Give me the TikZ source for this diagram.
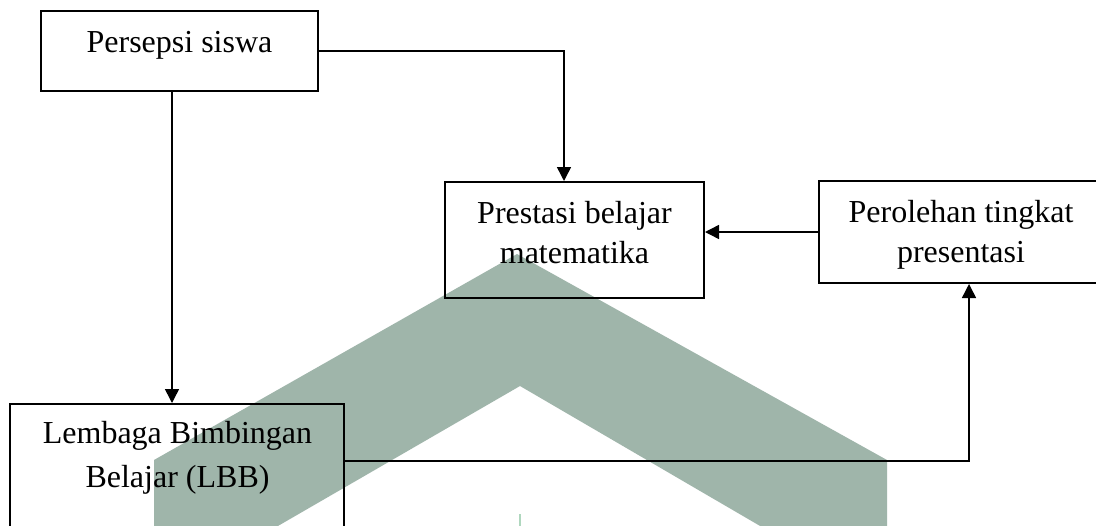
\documentclass[tikz,border=0pt]{standalone}
\usepackage{fontspec}
\setmainfont{Liberation Serif}
\usetikzlibrary{arrows.meta,calc}
\definecolor{wm}{RGB}{159,181,170}
\definecolor{wmlight}{RGB}{175,215,190}
\begin{document}
\begin{tikzpicture}[x=0.5pt,y=-0.5pt,
 box/.style={draw=black,line width=1pt,inner sep=0pt},
 lbl/.style={inner sep=0pt,anchor=base,font=\fontsize{16}{20}\selectfont},
 conn/.style={draw=black,line width=0.75pt},
 arr/.style={conn,-{Triangle[length=7pt,width=7pt]}}]
\useasboundingbox (0,0) rectangle (1096,525);
\clip (0,0) rectangle (1096,525);
\fill[white] (0,0) rectangle (1096,525);
% watermark
\fill[wm] (154,530) -- (154,460) -- (517,254) -- (887,460) -- (887,530) -- (767,530) -- (520,386) -- (271,530) -- cycle;
\fill[wmlight] (519.3,514) rectangle (521,530);
% boxes
\node[box,minimum width=138.5pt,minimum height=40pt] (ps) at (179.5,51) {};
\node[box,minimum width=129.5pt,minimum height=58pt] (pb) at (574.5,240) {};
\node[box,minimum width=142pt,minimum height=51pt] (pr) at (961,232) {};
\node[box,minimum width=167.25pt,minimum height=65.5pt] (lbb) at (176.75,469.5) {};
% texts
\node[lbl] (ps1) at (179.5,52) {Persepsi siswa};
\node[lbl] (pb1) at (574.5,223) {Prestasi belajar};
\node[lbl] (pb2) at (574.5,263) {matematika};
\node[lbl] (pr1) at (961,222) {Perolehan tingkat};
\node[lbl] (pr2) at (961,262) {presentasi};
\node[lbl] (lbb1) at (177.5,443) {Lembaga Bimbingan};
\node[lbl] (lbb2) at (177.5,487) {Belajar (LBB)};
% connectors
\coordinate (c1) at (172,0);
\coordinate (c2) at (969,461);
\draw[arr] (ps.east) -| ($(pb.north)+(-10.5,0)$);
\draw[arr] (ps.south -| c1) -- (lbb.north -| c1);
\draw[arr] (pr.west) -- (pb.east |- pr.west);
\draw[arr] (lbb.east |- c2) -| (pr.south -| c2);
\end{tikzpicture}
\end{document}
